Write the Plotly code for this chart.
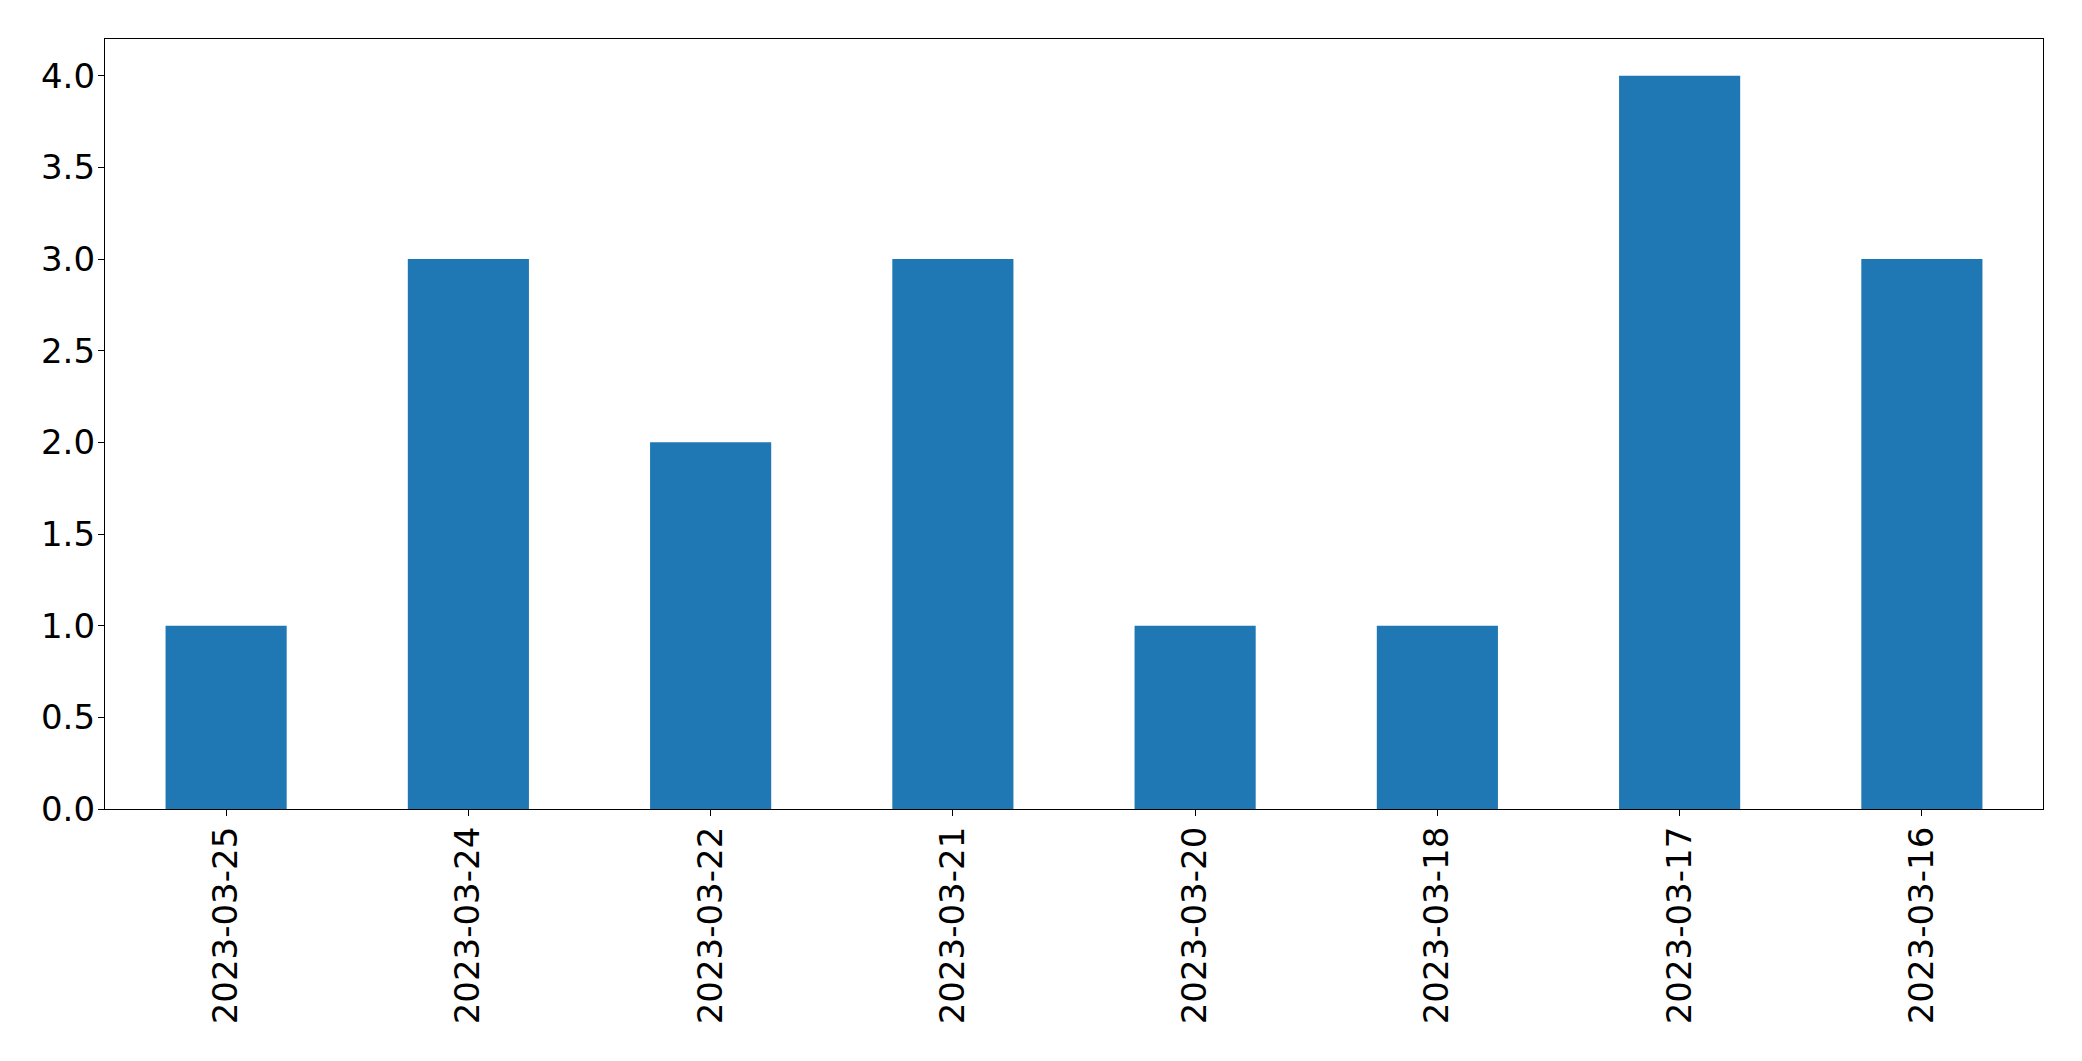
import plotly.graph_objects as go

categories = ["2023-03-25", "2023-03-24", "2023-03-22", "2023-03-21",
              "2023-03-20", "2023-03-18", "2023-03-17", "2023-03-16"]
values = [1, 3, 2, 3, 1, 1, 4, 3]

fig = go.Figure(go.Bar(x=categories, y=values, marker=dict(color="#1f77b4", line=dict(width=0)), width=0.5))

font_family = "DejaVu Sans"
fig.update_layout(
    width=2082, height=1061,
    margin=dict(l=97, r=47, t=31, b=260, autoexpand=False),
    paper_bgcolor="white", plot_bgcolor="white",
    showlegend=False,
    font=dict(family=font_family, size=34, color="black"),
)
fig.update_xaxes(
    type="category", range=[-0.5, 7.5],
    showline=True, linecolor="black", linewidth=1.3, mirror=True,
    ticks="outside", ticklen=6, tickwidth=1.3, tickcolor="black",
    tickangle=-90, showgrid=False, zeroline=False, automargin=False,
    ticklabelstandoff=-3,
    tickfont=dict(family=font_family, size=34, color="black"),
)
fig.update_yaxes(
    range=[0, 4.2], dtick=0.5, tick0=0, tickformat=".1f",
    showline=True, linecolor="black", linewidth=1.3, mirror=True,
    ticks="outside", ticklen=6, tickwidth=1.3, tickcolor="black",
    showgrid=False, zeroline=False, automargin=False,
    ticklabelstandoff=-4,
    tickfont=dict(family=font_family, size=34, color="black"),
)

fig.write_html("out.html")
